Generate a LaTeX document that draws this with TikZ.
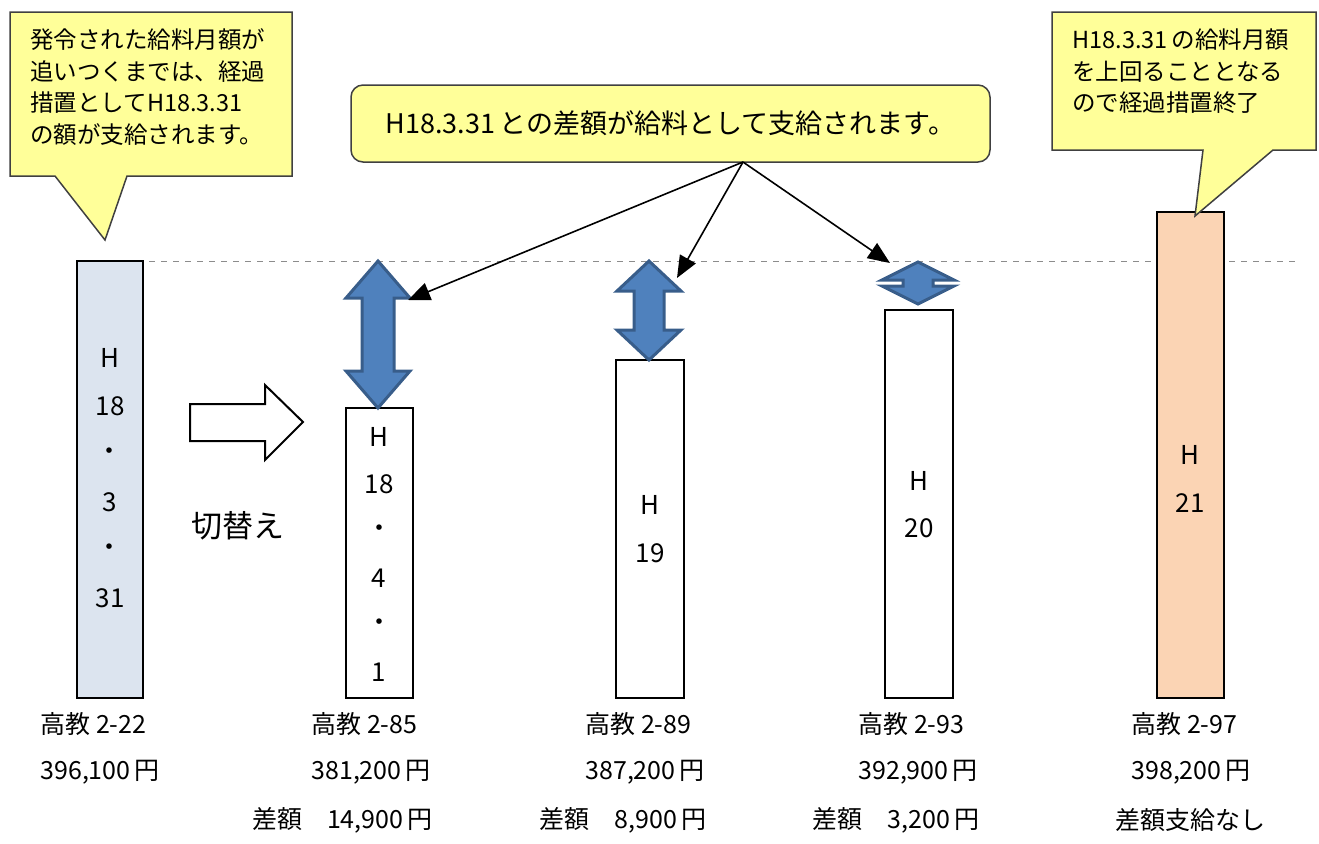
\documentclass[tikz,border=0pt]{standalone}
\usepackage{fontspec}
\newfontfamily\jpfont{Noto Sans CJK JP}
\usetikzlibrary{arrows.meta,positioning}
\definecolor{oldpay}{HTML}{DCE4EF}
\definecolor{lastpay}{HTML}{FBD4B4}
\definecolor{memo}{HTML}{FFFF99}
\definecolor{gapfill}{HTML}{4F81BD}
\definecolor{gapedge}{HTML}{385D8A}
% x, top, bottom, half head, half shaft, head length
\newcommand\gaparrow[6]{%
  \draw[gap] (#1,#2) -- (#1+#4,#2+#6) -- (#1+#5,#2+#6) -- (#1+#5,#3-#6)
    -- (#1+#4,#3-#6) -- (#1,#3) -- (#1-#4,#3-#6) -- (#1-#5,#3-#6)
    -- (#1-#5,#2+#6) -- (#1-#4,#2+#6) -- cycle;}
\begin{document}
\begin{tikzpicture}
  [x=0.5pt,y=-0.5pt,
  bar/.style={draw=black,line width=1pt},
  gap/.style={fill=gapfill,draw=gapedge,line width=1.5pt,line join=miter},
  note/.style={fill=memo,draw=black!75,line width=0.75pt},
  notetext/.style={font=\jpfont\fontsize{11.75}{15.75}\selectfont,align=left,anchor=west,inner sep=0},
  year/.style={font=\jpfont\fontsize{13}{15}\selectfont,inner sep=0},
  lbl/.style={font=\jpfont\fontsize{12.5}{14}\selectfont,inner sep=0},
  pointer/.style={-{Triangle[length=11pt,width=9pt]},line width=0.8pt},
  guide/.style={draw=black!45,dashed,line width=0.5pt}]
  \useasboundingbox (0,0) rectangle (1319,843);
  \draw[guide] (77,261) -- (1295,261);
  % bars
  \draw[bar,fill=oldpay] (77,261) rectangle (143,698);
  \draw[bar,fill=white] (346,408) rectangle (413,698);
  \draw[bar,fill=white] (616,360) rectangle (684,698);
  \draw[bar,fill=white] (885,310) rectangle (953,698);
  \draw[bar,fill=lastpay] (1157,212) rectangle (1224,698);
  \foreach \t [count=\i from 0] in {H,18,・,3,・,31}
    \node[year] (old\i) at (110,358+48*\i) {\t};
  \foreach \t [count=\i from 0] in {H,18,・,4,・,1}
    \node[year] (new\i) at (379,437+47*\i) {\t};
  \node[year] (y19a) at (650,505) {H};
  \node[year] (y19b) at (650,553) {19};
  \node[year] (y20a) at (919,481) {H};
  \node[year] (y20b) at (919,528) {20};
  \node[year] (y21a) at (1190,455) {H};
  \node[year] (y21b) at (1190,503) {21};
  % switch arrow
  \draw[line width=1pt] (190,404) -- (265,404) -- (265,385) -- (303,422)
    -- (265,460) -- (265,441) -- (190,441) -- cycle;
  \node[font=\jpfont\fontsize{15.5}{17}\selectfont,inner sep=0] (switch) at (238,526) {切替え};
  % gaps
  \gaparrow{378}{261}{408}{32}{16}{37}
  \gaparrow{649}{261}{360}{32}{15}{30}
  \gaparrow{918}{262}{304}{36}{15}{18}
  % callouts
  \draw[note] (10,12) -- (292,12) -- (292,176) -- (127,176) -- (105,240)
    -- (55,176) -- (10,176) -- cycle;
  \node[notetext] (memo1) at (30,87) {発令された給料月額が\\追いつくまでは、経過\\措置としてH18.3.31\\の額が支給されます。};
  \draw[note] (1052,12) -- (1316,12) -- (1316,150) -- (1273,150) -- (1195,216)
    -- (1203,150) -- (1052,150) -- cycle;
  \node[notetext] (memo3) at (1072,71.5) {H18.3.31\,の給料月額\\を上回ることとなる\\ので経過措置終了};
  \node[note,rounded corners=6pt,minimum width=319.5pt,minimum height=38.5pt,
    font=\jpfont\fontsize{13.5}{15}\selectfont] (memo2) at (670.5,123.5)
    {H18.3.31\,との差額が給料として支給されます。};
  \coordinate (fan) at (743,162);
  \coordinate (t2) at (408,300);
  \coordinate (t3) at (677,278);
  \coordinate (t4) at (890,263);
  \draw[pointer] (fan) -- (t2);
  \draw[pointer] (fan) -- (t3);
  \draw[pointer] (fan) -- (t4);
  % labels
  \node[lbl,anchor=west] (grade1) at (40,724) {高教 2-22};
  \node[lbl,anchor=west] (grade2) at (311,724) {高教 2-85};
  \node[lbl,anchor=west] (grade3) at (585,724) {高教 2-89};
  \node[lbl,anchor=west] (grade4) at (858,724) {高教 2-93};
  \node[lbl,anchor=west] (grade5) at (1131,724) {高教 2-97};
  \node[lbl,anchor=west] (pay1) at (40,772) {396,100\,円};
  \node[lbl,anchor=west] (pay2) at (311,772) {381,200\,円};
  \node[lbl,anchor=west] (pay3) at (585,772) {387,200\,円};
  \node[lbl,anchor=west] (pay4) at (858,772) {392,900\,円};
  \node[lbl,anchor=west] (pay5) at (1131,772) {398,200\,円};
  \node[lbl,anchor=east] (diff2) at (433,820) {差額　14,900\,円};
  \node[lbl,anchor=east] (diff3) at (707,820) {差額　8,900\,円};
  \node[lbl,anchor=east] (diff4) at (980,820) {差額　3,200\,円};
  \node[lbl] (diff5) at (1190,820) {差額支給なし};
\end{tikzpicture}
\end{document}
